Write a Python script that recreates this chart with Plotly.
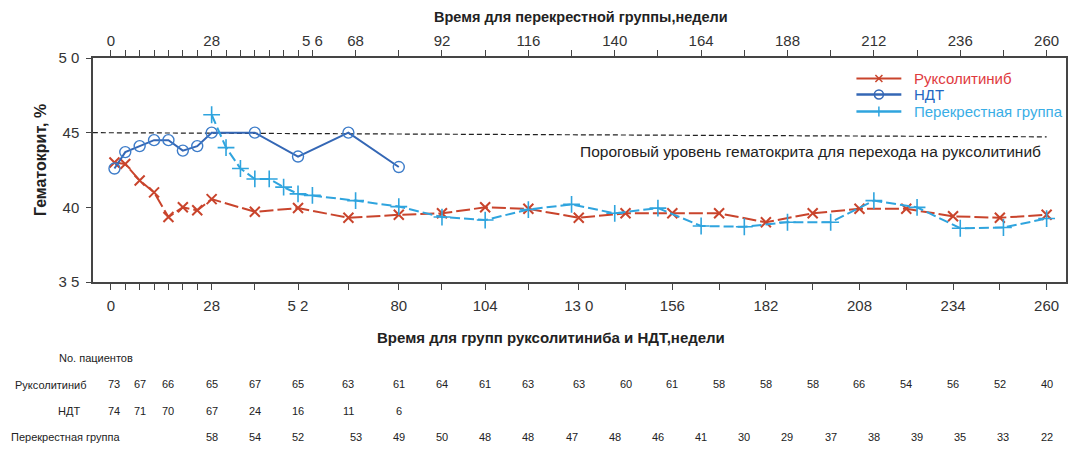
import plotly.graph_objects as go

# ---------------- data ----------------
weeks_main = [1, 4, 8, 12, 16, 20, 24, 28, 40, 52, 66, 80, 92, 104, 116, 130,
              143, 156, 169, 182, 195, 208, 221, 234, 247, 260]
ruxolitinib = [43.0, 42.9, 41.8, 41.0, 39.35, 40.0, 39.8, 40.55, 39.7, 39.95, 39.3,
               39.5, 39.6, 40.0, 39.9, 39.3, 39.6, 39.6, 39.6, 39.0, 39.6, 39.9,
               39.9, 39.4, 39.3, 39.5]

weeks_ndt = [1, 4, 8, 12, 16, 20, 24, 28, 40, 52, 66, 80]
ndt = [42.6, 43.7, 44.1, 44.5, 44.5, 43.8, 44.1, 45.0, 45.0, 43.4, 45.0, 42.7]

weeks_cross = [28, 32, 36, 40, 44, 48, 52, 56, 68, 80, 92, 104, 116, 128, 140,
               152, 164, 176, 188, 200, 212, 224, 236, 248, 260]
crossover = [46.2, 44.0, 42.6, 41.9, 41.9, 41.35, 40.9, 40.8, 40.45, 40.05, 39.35,
             39.15, 39.85, 40.2, 39.6, 39.95, 38.75, 38.7, 39.0, 39.0, 40.45, 40.0,
             38.6, 38.65, 39.25]

threshold_x = [-5, 260]
threshold_y = [45.0, 44.72]

# patients table
table_weeks = [1, 8, 16, 28, 40, 52, 66, 80, 92, 104, 116, 130, 143, 156, 169,
               182, 195, 208, 221, 234, 247, 260]
n_rux = [73, 67, 66, 65, 67, 65, 63, 61, 64, 61, 63, 63, 60, 61, 58, 58, 58, 66,
         54, 56, 52, 40]
table_weeks_ndt = [1, 8, 16, 28, 40, 52, 66, 80]
n_ndt = [74, 71, 70, 67, 24, 16, 11, 6]
table_weeks_cross = [28, 40, 52, 68, 80, 92, 104, 116, 128, 140, 152, 164, 176,
                     188, 200, 212, 224, 236, 248, 260]
n_cross = [58, 54, 52, 53, 49, 50, 48, 48, 47, 48, 46, 41, 30, 29, 37, 38, 39, 35,
           33, 22]

# axis ticks
bottom_ticks = [0, 4, 8, 12, 16, 20, 24, 28, 40, 52, 66, 80, 92, 104, 116, 130,
                143, 156, 169, 182, 195, 208, 221, 234, 247, 260]
bottom_labels = {0: "0", 28: "28", 52: "5 2", 80: "80", 104: "104", 130: "13 0",
                 156: "156", 182: "182", 208: "208", 234: "234", 260: "260"}
top_ticks = list(range(0, 57, 4)) + list(range(68, 261, 12))
top_labels = {0: "0", 28: "28", 56: "5 6", 68: "68", 92: "92", 116: "116",
              140: "140", 164: "164", 188: "188", 212: "212", 236: "236", 260: "260"}
y_ticks = [35, 40, 45, 50]
y_labels = ["3 5", "40", "45", "5 0"]

series_names = ["Руксолитиниб", "НДТ", "Перекрестная группа"]

# ---------------- styling ----------------
FONT = "Liberation Sans, Arial, sans-serif"
RED = "#c9442c"
RED_TXT = "#e03a3e"
BLUE = "#3467b5"
BLUE_TXT = "#2468c2"
LBLUE = "#2fa4de"
LBLUE_TXT = "#3aaee6"
AX = "#454545"
TXT = "#333333"

# page offset (browser body margin) -> figure is 8 px smaller
OFF = 8
W, H = 1080 - OFF, 451 - OFF
# plot frame in window pixel coordinates
L, R, T, B = 93, 1068, 58, 282


def px(x):
    return (x - L) / (R - L)


def py(y):
    return (B - y) / (B - T)


fig = go.Figure()

fig.add_trace(go.Scatter(
    x=threshold_x, y=threshold_y, mode="lines",
    line=dict(color="#222222", width=1.2, dash="5px,3px"),
    hoverinfo="skip", showlegend=False))

fig.add_trace(go.Scatter(
    x=weeks_main, y=ruxolitinib, mode="lines+markers", name=series_names[0],
    line=dict(color=RED, width=2, dash="14px,4px"),
    marker=dict(symbol="x-thin-open", size=10, color=RED, line=dict(color=RED, width=2)),
    showlegend=False))

fig.add_trace(go.Scatter(
    x=weeks_ndt, y=ndt, mode="lines+markers", name=series_names[1],
    line=dict(color=BLUE, width=2),
    marker=dict(symbol="circle-open", size=11, color="#3d7cc9", line=dict(width=1.4)),
    showlegend=False))

fig.add_trace(go.Scatter(
    x=weeks_cross, y=crossover, mode="lines+markers", name=series_names[2],
    xaxis="x2",
    line=dict(color=LBLUE, width=2, dash="10px,4px"),
    marker=dict(symbol="cross-thin-open", size=12, color=LBLUE, line=dict(color=LBLUE, width=1.6)),
    showlegend=False))

xr = [(L - 110.9) / 3.6065, (R - 110.9) / 3.6065]

fig.update_layout(
    width=W, height=H,
    margin=dict(l=L - OFF, r=1080 - R, t=T - OFF, b=451 - B, pad=0),
    paper_bgcolor="white", plot_bgcolor="white",
    font=dict(family=FONT, color=TXT, size=15),
    hovermode=False,
    xaxis=dict(
        range=xr, tickmode="array", tickvals=bottom_ticks,
        ticktext=[bottom_labels.get(t, "") for t in bottom_ticks],
        ticks="outside", ticklen=6, tickwidth=1.2, tickcolor=AX,
        showline=True, linecolor=AX, linewidth=1.5, showgrid=False, zeroline=False,
        tickfont=dict(size=15, color=TXT), ticklabelstandoff=3),
    xaxis2=dict(
        range=xr, overlaying="x", side="top", anchor="y", matches="x",
        tickmode="array", tickvals=top_ticks,
        ticktext=[top_labels.get(t, "") for t in top_ticks],
        ticks="outside", ticklen=6, tickwidth=1.2, tickcolor=AX,
        showline=True, linecolor=AX, linewidth=1.5, showgrid=False, zeroline=False,
        tickfont=dict(size=15, color=TXT), ticklabelstandoff=-2),
    yaxis=dict(
        range=[35, 50], tickmode="array", tickvals=y_ticks, ticktext=y_labels,
        ticks="outside", ticklen=5, tickwidth=1.2, tickcolor=AX,
        showline=True, mirror=True, linecolor=AX, linewidth=1.5,
        showgrid=False, zeroline=False, tickfont=dict(size=15, color=TXT),
        ticklabelstandoff=4),
)

ann = []
# axis titles
ann.append(dict(text="<b>Время для перекрестной группы,недели</b>", x=px(582), y=py(17),
                xref="paper", yref="paper", showarrow=False, xanchor="center",
                yanchor="middle", font=dict(size=14.5, color="#222")))
ann.append(dict(text="<b>Время для групп руксолитиниба и НДТ,недели</b>", x=px(552), y=py(337),
                xref="paper", yref="paper", showarrow=False, xanchor="center",
                yanchor="middle", font=dict(size=15, color="#222")))
ann.append(dict(text="<b>Гематокрит, %</b>", x=px(40), y=py(160), textangle=-90,
                xref="paper", yref="paper", showarrow=False, xanchor="center",
                yanchor="middle", font=dict(size=16, color="#222")))
ann.append(dict(text="Пороговый уровень гематокрита для перехода на руксолитиниб",
                x=px(812), y=py(151), xref="paper", yref="paper", showarrow=False,
                xanchor="center", yanchor="middle", font=dict(size=15.5, color="#222")))

# table
ann.append(dict(text="No. пациентов", x=px(96), y=py(358), xref="paper", yref="paper",
                showarrow=False, xanchor="center", yanchor="middle",
                font=dict(size=11, color="#222")))
row_labels = [("Руксолитиниб", 51, 385), ("НДТ", 69, 410.5), ("Перекрестная группа", 65.5, 437)]
for txt, cx, cy in row_labels:
    ann.append(dict(text=txt, x=px(cx), y=py(cy), xref="paper", yref="paper",
                    showarrow=False, xanchor="center", yanchor="middle",
                    font=dict(size=11, color="#222")))
for wk, n in zip(table_weeks, n_rux):
    ann.append(dict(text=str(n), x=wk, y=py(384), xref="x", yref="paper", showarrow=False,
                    xanchor="center", yanchor="middle", font=dict(size=11, color="#222")))
for wk, n in zip(table_weeks_ndt, n_ndt):
    ann.append(dict(text=str(n), x=wk, y=py(410.5), xref="x", yref="paper", showarrow=False,
                    xanchor="center", yanchor="middle", font=dict(size=11, color="#222")))
for wk, n in zip(table_weeks_cross, n_cross):
    ann.append(dict(text=str(n), x=wk, y=py(437), xref="x", yref="paper", showarrow=False,
                    xanchor="center", yanchor="middle", font=dict(size=11, color="#222")))

# legend (manual)
leg_x0, leg_x1, leg_tx = 858, 903, 914
leg_rows = [(78.5, RED, RED_TXT, 2), (94.5, BLUE, BLUE_TXT, 2.6), (111.5, LBLUE, LBLUE_TXT, 2.4)]
shapes = []
for (yy, col, tcol, lw), name in zip(leg_rows, series_names):
    shapes.append(dict(type="line", xref="paper", yref="paper", x0=px(leg_x0), x1=px(leg_x1),
                       y0=py(yy), y1=py(yy), line=dict(color=col, width=lw)))
    ann.append(dict(text=name, x=px(leg_tx), y=py(yy), xref="paper", yref="paper",
                    showarrow=False, xanchor="left", yanchor="middle",
                    font=dict(size=15, color=tcol)))
cxm = (leg_x0 + leg_x1) / 2
y0 = leg_rows[0][0]
shapes.append(dict(type="line", xref="paper", yref="paper", x0=px(cxm - 3.5), x1=px(cxm + 3.5),
                   y0=py(y0 - 3.5), y1=py(y0 + 3.5), line=dict(color=RED, width=1.5)))
shapes.append(dict(type="line", xref="paper", yref="paper", x0=px(cxm - 3.5), x1=px(cxm + 3.5),
                   y0=py(y0 + 3.5), y1=py(y0 - 3.5), line=dict(color=RED, width=1.5)))
y1 = leg_rows[1][0]
shapes.append(dict(type="circle", xref="paper", yref="paper", x0=px(cxm - 4.5), x1=px(cxm + 4.5),
                   y0=py(y1 + 4.5), y1=py(y1 - 4.5), line=dict(color=BLUE, width=1.5),
                   fillcolor="rgba(0,0,0,0)"))
y2 = leg_rows[2][0]
shapes.append(dict(type="line", xref="paper", yref="paper", x0=px(cxm), x1=px(cxm),
                   y0=py(y2 - 5), y1=py(y2 + 5), line=dict(color=LBLUE, width=1.5)))

fig.update_layout(annotations=ann, shapes=shapes)

fig.write_html("out.html")
